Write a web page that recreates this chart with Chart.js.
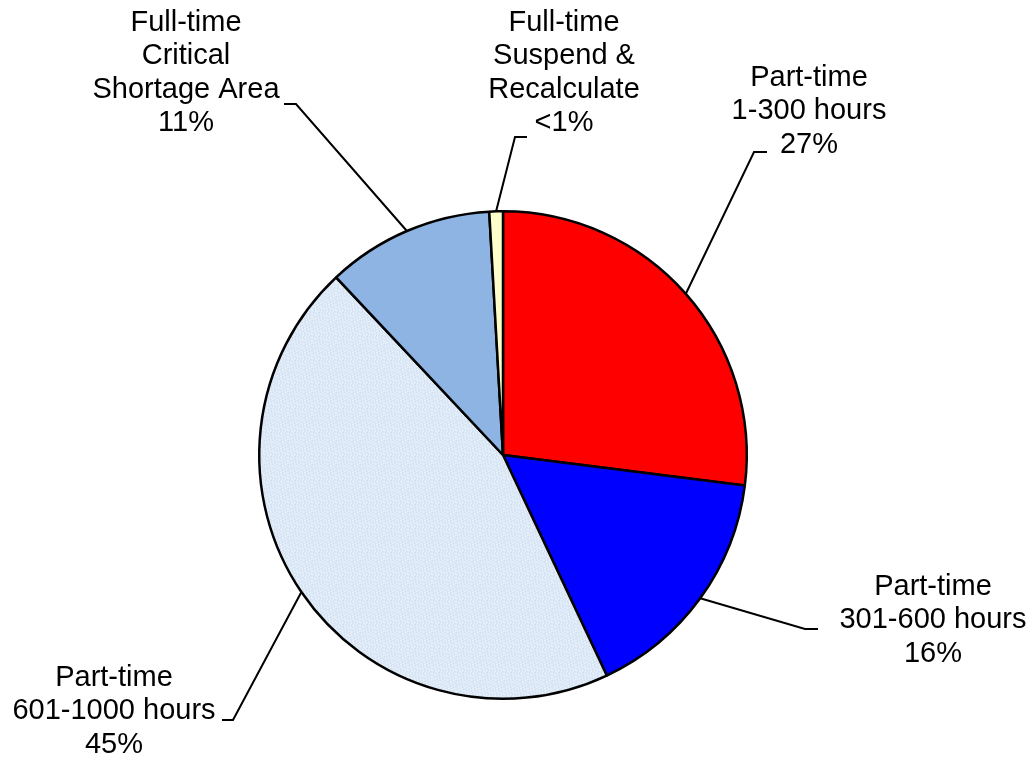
<!DOCTYPE html>
<html>
<head>
<meta charset="utf-8">
<title>Enrollment status</title>
<script src="https://cdn.jsdelivr.net/npm/chart.js@4/dist/chart.umd.min.js"></script>
<style>
  html, body { margin: 0; padding: 0; background: #fff; }
  #wrap { width: 1034px; height: 758px; }
</style>
</head>
<body>
<div id="wrap"><canvas id="pie" width="1034" height="758"></canvas></div>
<script>
// slice data, clockwise from 12 o'clock
const categories = [
  ["Part-time", "1-300 hours"],
  ["Part-time", "301-600 hours"],
  ["Part-time", "601-1000 hours"],
  ["Full-time", "Critical", "Shortage Area"],
  ["Full-time", "Suspend &", "Recalculate"]
];
const shares = [27, 16, 45, 11.1, 0.9];
const sliceColors = ["#ff0000", "#0000ff", "#dce8f6", "#8eb4e3", "#ffffcc"];

// where each label sits: text centre x, first baseline y, elbow of the leader, end of the short tick
const labelLayout = [
  { cx: 809, y: 86,  elbow: [754, 152], tick: [767, 152] },
  { cx: 933, y: 595, elbow: [805, 629], tick: [818, 629] },
  { cx: 114, y: 686, elbow: [233, 720], tick: [222, 720] },
  { cx: 186, y: 31,  elbow: [296, 104], tick: [284, 104] },
  { cx: 564, y: 31,  elbow: [515, 137], tick: [527, 137] }
];

const pctText = v => v < 1 ? "<1%" : Math.round(v) + "%";

// light slice gets a faint paper-like texture
function paperPattern(){
  const c = document.createElement("canvas");
  c.width = 24; c.height = 24;
  const g = c.getContext("2d");
  g.fillStyle = "#dde9f6";
  g.fillRect(0, 0, 24, 24);
  for (let i = 0; i < 24; i++){
    for (let j = 0; j < 24; j++){
      const t = Math.sin(i * 1.7 + j * 0.9) * Math.cos(j * 1.3 - i * 0.5);
      if (t > 0.55){ g.fillStyle = "rgba(200,215,235,0.55)"; g.fillRect(i, j, 1, 1); }
      else if (t < -0.6){ g.fillStyle = "rgba(240,246,252,0.7)"; g.fillRect(i, j, 1, 1); }
    }
  }
  return g.createPattern(c, "repeat");
}
const fills = sliceColors.slice();
fills[2] = paperPattern();

const leaderLabels = {
  id: "leaderLabels",
  afterDatasetsDraw(chart){
    const ctx = chart.ctx;
    const arcs = chart.getDatasetMeta(0).data;
    ctx.save();
    ctx.strokeStyle = "#000";
    ctx.lineWidth = 2;
    ctx.fillStyle = "#000";
    ctx.font = "29px 'Liberation Sans', Arial, sans-serif";
    ctx.textAlign = "center";
    ctx.textBaseline = "alphabetic";
    arcs.forEach((arc, i) => {
      const p = arc.getProps(["x", "y", "startAngle", "endAngle", "outerRadius"], true);
      const mid = (p.startAngle + p.endAngle) / 2;
      const ax = p.x + Math.cos(mid) * p.outerRadius;
      const ay = p.y + Math.sin(mid) * p.outerRadius;
      const L = labelLayout[i];
      ctx.beginPath();
      ctx.moveTo(ax, ay);
      ctx.lineTo(L.elbow[0], L.elbow[1]);
      ctx.lineTo(L.tick[0], L.tick[1]);
      ctx.stroke();
      const lines = categories[i].concat(pctText(shares[i]));
      lines.forEach((t, k) => ctx.fillText(t, L.cx, L.y + k * 33.3));
    });
    ctx.restore();
  }
};

new Chart(document.getElementById("pie"), {
  type: "pie",
  data: {
    labels: categories.map(c => c.join(" ")),
    datasets: [{
      data: shares,
      backgroundColor: fills,
      borderColor: "#000",
      borderWidth: 2.5
    }]
  },
  options: {
    responsive: false,
    animation: false,
    layout: { padding: { left: 258, right: 286, top: 210, bottom: 58 } },
    plugins: { legend: { display: false }, tooltip: { enabled: false } }
  },
  plugins: [leaderLabels]
});
</script>
</body>
</html>
